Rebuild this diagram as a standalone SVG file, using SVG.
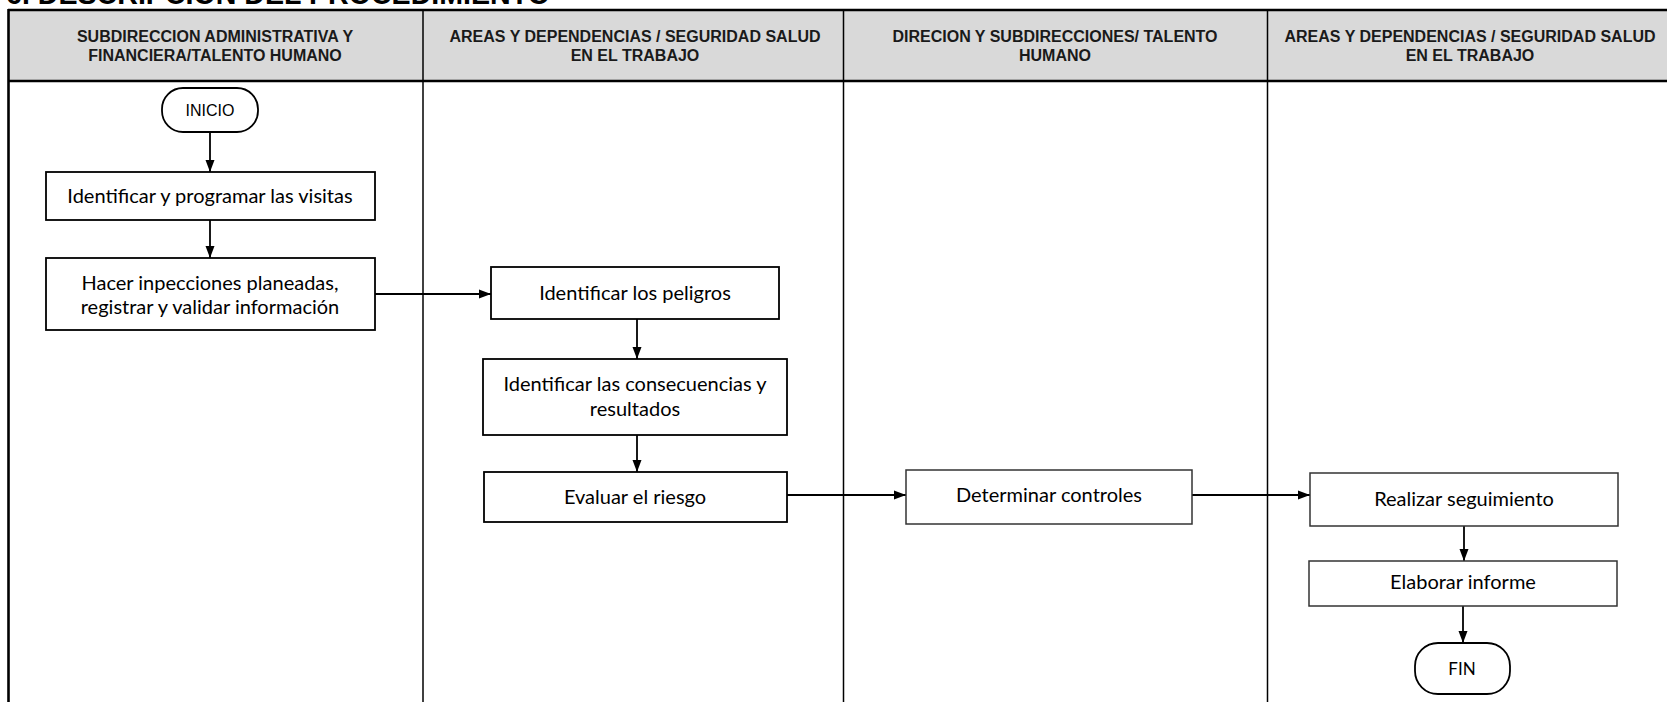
<svg xmlns="http://www.w3.org/2000/svg" width="1667" height="702" viewBox="0 0 1667 702">
<style>
.title{font-family:"Liberation Sans",Arial,sans-serif;font-weight:bold;font-size:28.6px;fill:#000}
.hdr{font-family:"Liberation Sans",Arial,sans-serif;font-weight:bold;font-size:16px;fill:#1a1a1a;text-anchor:middle}
.term{font-family:"Liberation Sans",Arial,sans-serif;font-size:16px;fill:#000;text-anchor:middle}
.lbl{font-family:Lato,"Open Sans",sans-serif;font-size:20px;fill:#000;text-anchor:middle}
.box{fill:#fff;stroke:#000;stroke-width:1.8}
.box2{fill:#fff;stroke:#333;stroke-width:1.5}
.conn{fill:none;stroke:#000;stroke-width:1.8}
.div{stroke:#000;stroke-width:1.5}
.border{stroke:#000;stroke-width:2.6;fill:none}
</style>
<defs>
<marker id="arr" markerUnits="userSpaceOnUse" markerWidth="13" markerHeight="10" refX="12" refY="5" orient="auto">
<path d="M0,0.5 L12,5 L0,9.5 z" fill="#000"/>
</marker>
</defs>
<rect x="0" y="0" width="1667" height="702" fill="#fff"/>
<text class="title" x="6" y="4">6. DESCRIPCIÓN DEL PROCEDIMIENTO</text>
<g id="table">
<rect x="8" y="10" width="1670" height="71" fill="#d9d9d9"/>
<line class="div" x1="423" y1="10" x2="423" y2="702"/>
<line class="div" x1="843.5" y1="10" x2="843.5" y2="702"/>
<line class="div" x1="1267.5" y1="10" x2="1267.5" y2="702"/>
<line class="border" x1="8" y1="10" x2="1667" y2="10"/>
<line class="border" x1="8" y1="81" x2="1667" y2="81"/>
<line class="border" x1="8.5" y1="9" x2="8.5" y2="702"/>
<text class="hdr" x="215" y="41.5">SUBDIRECCION ADMINISTRATIVA Y</text>
<text class="hdr" x="215" y="61">FINANCIERA/TALENTO HUMANO</text>
<text class="hdr" x="635" y="41.5">AREAS Y DEPENDENCIAS / SEGURIDAD SALUD</text>
<text class="hdr" x="635" y="61">EN EL TRABAJO</text>
<text class="hdr" x="1055" y="41.5">DIRECION Y SUBDIRECCIONES/ TALENTO</text>
<text class="hdr" x="1055" y="61">HUMANO</text>
<text class="hdr" x="1470" y="41.5">AREAS Y DEPENDENCIAS / SEGURIDAD SALUD</text>
<text class="hdr" x="1470" y="61">EN EL TRABAJO</text>
</g>
<g id="connectors">
<line class="conn" x1="210" y1="132" x2="210" y2="172" marker-end="url(#arr)"/>
<line class="conn" x1="210" y1="220" x2="210" y2="258" marker-end="url(#arr)"/>
<line class="conn" x1="375" y1="294" x2="491" y2="294" marker-end="url(#arr)"/>
<line class="conn" x1="637" y1="319" x2="637" y2="359" marker-end="url(#arr)"/>
<line class="conn" x1="637" y1="435" x2="637" y2="472" marker-end="url(#arr)"/>
<line class="conn" x1="787" y1="495" x2="906" y2="495" marker-end="url(#arr)"/>
<line class="conn" x1="1192" y1="495" x2="1310" y2="495" marker-end="url(#arr)"/>
<line class="conn" x1="1464" y1="526" x2="1464" y2="561" marker-end="url(#arr)"/>
<line class="conn" x1="1463" y1="606" x2="1463" y2="643" marker-end="url(#arr)"/>
</g>
<g id="n-inicio">
<rect class="box" x="162" y="88" width="96" height="44" rx="21" ry="21"/>
<text class="term" x="210" y="116">INICIO</text>
</g>
<g id="n-programar">
<rect class="box" x="46" y="172" width="329" height="48"/>
<text class="lbl" x="210" y="203">Identificar y programar las visitas</text>
</g>
<g id="n-inspecciones">
<rect class="box" x="46" y="258" width="329" height="72"/>
<text class="lbl" x="210" y="290">Hacer inpecciones planeadas,</text>
<text class="lbl" x="210" y="314">registrar y validar información</text>
</g>
<g id="n-peligros">
<rect class="box" x="491" y="267" width="288" height="52"/>
<text class="lbl" x="635" y="300">Identificar los peligros</text>
</g>
<g id="n-consecuencias">
<rect class="box" x="483" y="359" width="304" height="76"/>
<text class="lbl" x="635" y="391">Identificar las consecuencias y</text>
<text class="lbl" x="635" y="416">resultados</text>
</g>
<g id="n-evaluar">
<rect class="box" x="484" y="472" width="303" height="50"/>
<text class="lbl" x="635" y="504">Evaluar el riesgo</text>
</g>
<g id="n-controles">
<rect class="box2" x="906" y="470" width="286" height="54"/>
<text class="lbl" x="1049" y="502">Determinar controles</text>
</g>
<g id="n-seguimiento">
<rect class="box2" x="1310" y="473" width="308" height="53"/>
<text class="lbl" x="1464" y="506">Realizar seguimiento</text>
</g>
<g id="n-informe">
<rect class="box2" x="1309" y="561" width="308" height="45"/>
<text class="lbl" x="1463" y="589">Elaborar informe</text>
</g>
<g id="n-fin">
<rect class="box" x="1415" y="643" width="95" height="51" rx="23" ry="23"/>
<text class="lbl" x="1462" y="675" style="font-size:17px">FIN</text>
</g>
</svg>
